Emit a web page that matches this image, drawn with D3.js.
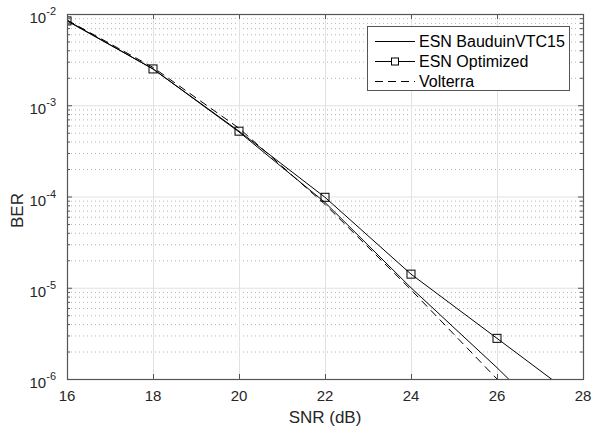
<!DOCTYPE html>
<html>
<head>
<meta charset="utf-8">
<title>BER vs SNR</title>
<script src="https://cdn.jsdelivr.net/npm/d3@7/dist/d3.min.js"></script>
<style>
html, body { margin: 0; padding: 0; background: #fff; }
svg { display: block; font-family: "Liberation Sans", Arial, Helvetica, sans-serif; }
</style>
</head>
<body>
<div id="chart"></div>
<script>
// data
const snr = [16, 18, 20, 22, 24, 26, 28];
const berBauduin = [8.5e-3, 2.5e-3, 5.1e-4, 8.6e-5, 1.0e-5, 1.33e-6, 1.6e-7];
const berOptimized = [8.4e-3, 2.5e-3, 5.2e-4, 9.8e-5, 1.41e-5, 2.79e-6, 5.5e-7];
const berVolterra = [8.6e-3, 2.6e-3, 5.6e-4, 8.2e-5, 9.5e-6, 1.0e-6, 1.0e-7];
const xTicks = [16, 18, 20, 22, 24, 26, 28];
const yExps = [-6, -5, -4, -3, -2];
const seriesNames = ["ESN BauduinVTC15", "ESN Optimized", "Volterra"];

const W = 592, H = 430;
const m = { left: 67, top: 14, right: 9, bottom: 51 };
const w = W - m.left - m.right, h = H - m.top - m.bottom;
const axisCol = "#555";
const dash = "8,5";

const svg = d3.select("#chart").append("svg").attr("width", W).attr("height", H);
const g = svg.append("g").attr("transform", "translate(" + m.left + "," + m.top + ")");

const x = d3.scaleLinear().domain([16, 28]).range([0, w]);
const y = d3.scaleLog().domain([1e-6, 1e-2]).range([h, 0]);

// minor values (2..9 x 10^k)
const minor = [];
for (let e = -6; e < -2; e++) for (let k = 2; k <= 9; k++) minor.push(k * Math.pow(10, e));

// grid
g.selectAll(".ming").data(minor).enter().append("line")
  .attr("x1", 0).attr("x2", w)
  .attr("y1", d => y(d) + 0.5).attr("y2", d => y(d) + 0.5)
  .attr("stroke", "#b4b4b4").attr("stroke-width", 1).attr("stroke-dasharray", "1,3");
g.selectAll(".majg").data(yExps).enter().append("line")
  .attr("x1", 0).attr("x2", w)
  .attr("y1", d => y(Math.pow(10, d)) + 0.5).attr("y2", d => y(Math.pow(10, d)) + 0.5)
  .attr("stroke", "#e2e2e2").attr("stroke-width", 1);
g.selectAll(".xg").data(xTicks).enter().append("line")
  .attr("x1", d => x(d) + 0.5).attr("x2", d => x(d) + 0.5)
  .attr("y1", 0).attr("y2", h)
  .attr("stroke", "#e2e2e2").attr("stroke-width", 1);

// series
const clip = svg.append("defs").append("clipPath").attr("id", "clip");
clip.append("rect").attr("width", w).attr("height", h);
const plot = g.append("g").attr("clip-path", "url(#clip)");
const line = d3.line().x((d, i) => x(snr[i])).y(d => y(d));

plot.append("path").datum(berBauduin).attr("d", line)
  .attr("fill", "none").attr("stroke", "#000").attr("stroke-width", 1);
plot.append("path").datum(berOptimized).attr("d", line)
  .attr("fill", "none").attr("stroke", "#000").attr("stroke-width", 1);
plot.append("path").datum(berVolterra).attr("d", line)
  .attr("fill", "none").attr("stroke", "#000").attr("stroke-width", 1)
  .attr("stroke-dasharray", dash);
plot.selectAll(".mk").data(berOptimized).enter().append("rect")
  .attr("x", (d, i) => x(snr[i]) - 4).attr("y", d => y(d) - 4)
  .attr("width", 8).attr("height", 8)
  .attr("fill", "none").attr("stroke", "#000").attr("stroke-width", 1);

// axes box and ticks
g.append("rect").attr("x", 0.5).attr("y", 0.5).attr("width", w).attr("height", h)
  .attr("fill", "none").attr("stroke", axisCol).attr("stroke-width", 1.2);

xTicks.forEach(t => {
  g.append("line").attr("x1", x(t) + 0.5).attr("x2", x(t) + 0.5).attr("y1", h).attr("y2", h - 5).attr("stroke", axisCol);
  g.append("line").attr("x1", x(t) + 0.5).attr("x2", x(t) + 0.5).attr("y1", 0).attr("y2", 5).attr("stroke", axisCol);
  g.append("text").attr("x", x(t)).attr("y", h + 22).attr("text-anchor", "middle")
    .attr("font-size", 15).attr("fill", "#262626").text(t);
});
minor.forEach(v => {
  g.append("line").attr("x1", 0).attr("x2", 3).attr("y1", y(v) + 0.5).attr("y2", y(v) + 0.5).attr("stroke", axisCol);
  g.append("line").attr("x1", w).attr("x2", w - 3).attr("y1", y(v) + 0.5).attr("y2", y(v) + 0.5).attr("stroke", axisCol);
});
yExps.forEach(e => {
  const yy = y(Math.pow(10, e));
  g.append("line").attr("x1", 0).attr("x2", 5).attr("y1", yy + 0.5).attr("y2", yy + 0.5).attr("stroke", axisCol);
  g.append("line").attr("x1", w).attr("x2", w - 5).attr("y1", yy + 0.5).attr("y2", yy + 0.5).attr("stroke", axisCol);
  const t = g.append("text").attr("x", -11).attr("y", yy + 9).attr("text-anchor", "end")
    .attr("font-size", 15).attr("fill", "#262626");
  t.append("tspan").text("10");
  t.append("tspan").attr("dy", -8).attr("font-size", 11).text(e);
});

// axis labels
svg.append("text").attr("x", m.left + w / 2).attr("y", 423).attr("text-anchor", "middle")
  .attr("font-size", 17).attr("fill", "#262626").text("SNR (dB)");
svg.append("text").attr("transform", "translate(23," + (m.top + h / 2 + 14) + ") rotate(-90)")
  .attr("text-anchor", "middle").attr("font-size", 17).attr("fill", "#262626").text("BER");

// legend
const lg = svg.append("g").attr("transform", "translate(367,26)");
lg.append("rect").attr("x", 0.5).attr("y", 0.5).attr("width", 202).attr("height", 64)
  .attr("fill", "#fff").attr("stroke", axisCol).attr("stroke-width", 1);
const dashes = [null, null, dash];
seriesNames.forEach((name, i) => {
  const ly = 15 + i * 20;
  lg.append("line").attr("x1", 8).attr("x2", 48).attr("y1", ly + 0.5).attr("y2", ly + 0.5)
    .attr("stroke", "#000").attr("stroke-dasharray", dashes[i]);
  if (i === 1) lg.append("rect").attr("x", 24.5).attr("y", ly - 3).attr("width", 7).attr("height", 7)
    .attr("fill", "#fff").attr("stroke", "#000");
  lg.append("text").attr("x", 52).attr("y", ly + 6).attr("font-size", 16).attr("fill", "#000").text(name);
});
</script>
</body>
</html>
